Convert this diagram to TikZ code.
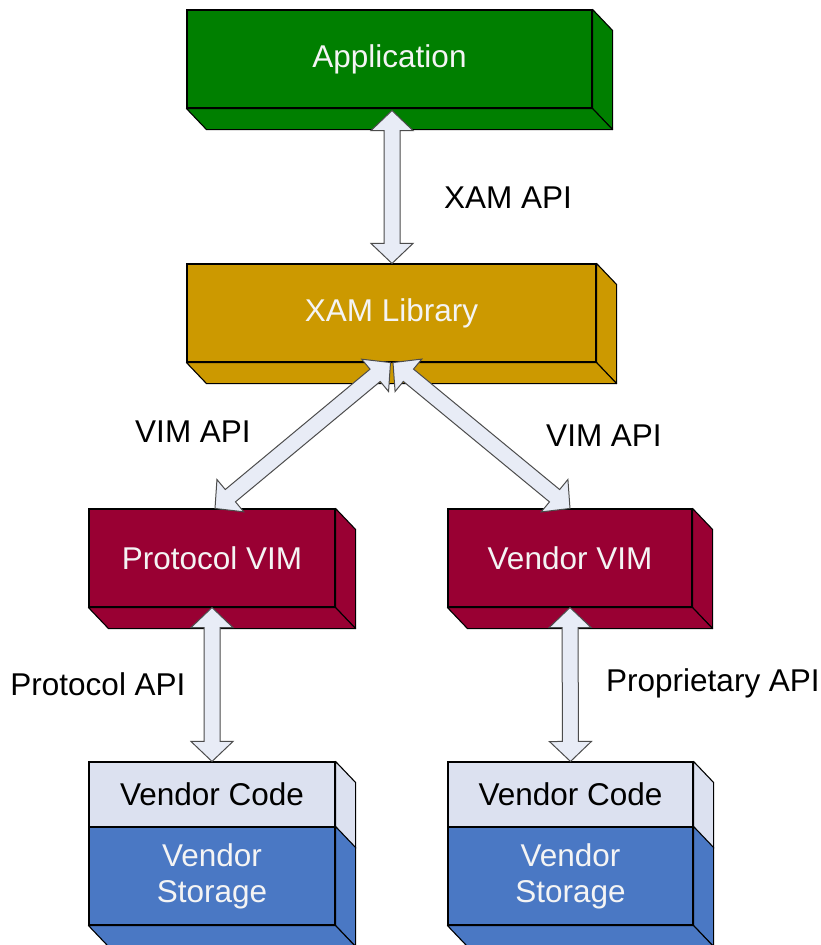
\documentclass[tikz,border=0pt]{standalone}
\usepackage{fontspec}
\setmainfont{Liberation Sans}
\usetikzlibrary{calc}
\definecolor{appgreen}{HTML}{007F00}
\definecolor{xamgold}{HTML}{CC9900}
\definecolor{vimred}{HTML}{990033}
\definecolor{codelight}{HTML}{DCE1F0}
\definecolor{storblue}{HTML}{4A78C4}
\definecolor{arrfill}{HTML}{E8ECF6}
\definecolor{boxtext}{HTML}{F4F4F4}
\tikzset{
  box/.style={draw=black, line width=1.1pt, minimum height=98pt, inner sep=0pt,
    text=boxtext, font=\fontsize{31.5}{36}\selectfont, align=center},
  face/.style={draw=black, line width=1.1pt, line join=round},
  fatarr/.style={fill=arrfill, draw=black!70, line width=1pt, line join=miter},
  lbl/.style={font=\fontsize{31.5}{36}\selectfont, text=black, inner sep=0pt},
}
\newcommand\boxfaces[2]{%
  \filldraw[face, fill=#2] (#1.north east) -- ($(#1.north east)+(20pt,-21pt)$)
    -- ($(#1.south east)+(20pt,-21pt)$) -- (#1.south east) -- cycle;
  \filldraw[face, fill=#2] (#1.south west) -- (#1.south east)
    -- ($(#1.south east)+(20pt,-21pt)$) -- ($(#1.south west)+(20pt,-21pt)$) -- cycle;}
\newcommand\sidefacetop[2]{%
  \filldraw[face, fill=#2] (#1.north east) -- ($(#1.north east)+(20pt,-21pt)$)
    -- ($(#1.south east)+(20pt,-21pt)$) -- (#1.south east) -- cycle;}
\newcommand\fatarrow[2]{%
  \path let \p1=(#1), \p2=(#2) in
    \pgfextra{%
      \pgfmathsetmacro\arrlen{veclen(\x2-\x1,\y2-\y1)}%
      \pgfmathsetmacro\arrang{atan2(\y2-\y1,\x2-\x1)}%
      \xdef\arrlen{\arrlen}\xdef\arrang{\arrang}};
  \begin{scope}[shift={(#1)}, rotate=\arrang]
    \filldraw[fatarr] (0pt,0pt) -- (20pt,21pt) -- (20pt,8pt) -- (\arrlen pt-20pt,8pt)
      -- (\arrlen pt-20pt,21pt) -- (\arrlen pt,0pt) -- (\arrlen pt-20pt,-21pt)
      -- (\arrlen pt-20pt,-8pt) -- (20pt,-8pt) -- (20pt,-21pt) -- cycle;
  \end{scope}}
\begin{document}
\begin{tikzpicture}[x=1pt,y=-1pt]
\useasboundingbox[fill=white] (0,0) rectangle (821,945);
% boxes
\node[box, fill=appgreen, minimum width=405pt] (app) at (389.5,59) {Application};
\boxfaces{app}{appgreen}
\node[box, fill=xamgold, minimum width=409pt] (xam) at (391.5,313) {XAM Library};
\boxfaces{xam}{xamgold}
\node[box, fill=vimred, minimum width=246pt] (pvim) at (212,558) {Protocol VIM};
\boxfaces{pvim}{vimred}
\node[box, fill=vimred, minimum width=244pt] (vvim) at (570,558) {Vendor VIM};
\boxfaces{vvim}{vimred}
% vendor stacks
\node[box, fill=codelight, text=black, minimum width=246pt, minimum height=65pt] (codeL) at (212,794.5) {Vendor Code};
\sidefacetop{codeL}{codelight}
\node[box, fill=storblue, minimum width=246pt] (storL) at (212,876) {Vendor\\Storage};
\boxfaces{storL}{storblue}
\node[box, fill=codelight, text=black, minimum width=245pt, minimum height=65pt] (codeR) at (570.5,794.5) {Vendor Code};
\sidefacetop{codeR}{codelight}
\node[box, fill=storblue, minimum width=245pt] (storR) at (570.5,876) {Vendor\\Storage};
\boxfaces{storR}{storblue}
% arrows
\fatarrow{$(app.south)+(2.5pt,-2pt)$}{$(xam.north)+(0.5pt,0pt)$}
\fatarrow{$(xam.south)+(-1pt,0pt)$}{$(pvim.north)+(3pt,0pt)$}
\fatarrow{$(xam.south)+(1.5pt,0pt)$}{vvim.north}
\fatarrow{pvim.south}{codeL.north}
\fatarrow{vvim.south}{codeR.north}
% labels
\node[lbl] (lxam) at (508,198) {XAM API};
\node[lbl] (lvimL) at (193,432) {VIM API};
\node[lbl] (lvimR) at (604,436) {VIM API};
\node[lbl] (lprot) at (98,684) {Protocol API};
\node[lbl] (lprop) at (713,683) {Proprietary API};
\end{tikzpicture}
\end{document}
